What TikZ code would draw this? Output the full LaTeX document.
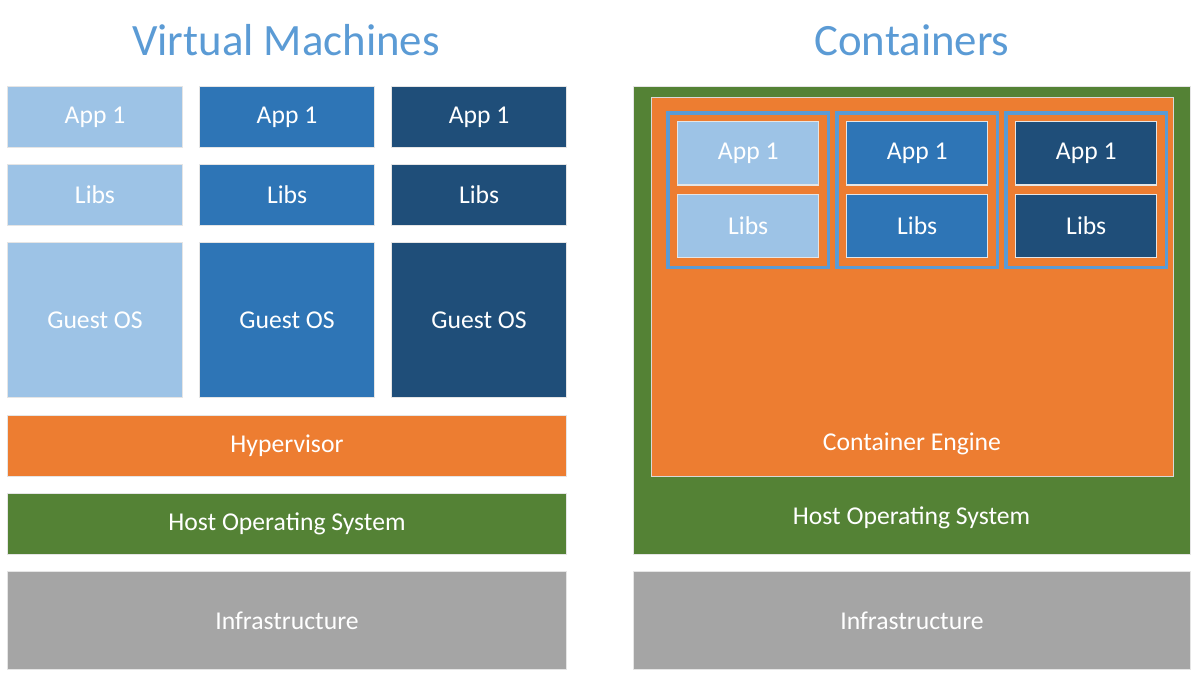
\documentclass[tikz,border=0pt]{standalone}
\usepackage{fontspec}
\setmainfont{Carlito}
\usetikzlibrary{positioning}
\definecolor{lite}{HTML}{9DC3E6}
\definecolor{mid}{HTML}{2E75B6}
\definecolor{deep}{HTML}{1F4E79}
\definecolor{engine}{HTML}{ED7D31}
\definecolor{hostgreen}{HTML}{548235}
\definecolor{infragray}{HTML}{A5A5A5}
\definecolor{headblue}{HTML}{5B9BD5}
\definecolor{ctrline}{HTML}{5B9BD5}
\begin{document}
\begin{tikzpicture}[x=0.02cm,y=-0.02cm,every node/.style={font=\fontsize{14.6}{17}\selectfont,text=white},
      layer/.style={draw=black!10,line width=.6pt,inner sep=0pt,minimum height=1.22cm,anchor=north west},
      vmbox/.style={layer,minimum width=3.5cm},
      cbox/.style={draw=black!10,line width=.6pt,inner sep=0pt,minimum width=2.82cm,minimum height=1.27cm},
      ctr/.style={draw=ctrline,line width=2pt,fill=engine,minimum width=3.22cm,minimum height=3.1cm,anchor=north west},
      head/.style={font=\fontsize{25.5}{29}\selectfont,text=headblue}]
      \useasboundingbox[fill=white] (0,0) rectangle (1200,681);
      \node[head] (vmtitle) at (286,40) {Virtual Machines};
      \node[head] (cttitle) at (912,40) {Containers};
      \node[vmbox,fill=lite] (app1) at (7,86) {App 1};
      \node[vmbox,fill=mid,right=0.32cm of app1] (app2) {App 1};
      \node[vmbox,fill=deep,right=0.32cm of app2] (app3) {App 1};
      \node[vmbox,fill=lite,below=0.32cm of app1] (libs1) {Libs};
      \node[vmbox,fill=mid,below=0.32cm of app2] (libs2) {Libs};
      \node[vmbox,fill=deep,below=0.32cm of app3] (libs3) {Libs};
      \node[vmbox,fill=lite,minimum height=3.1cm,below=0.32cm of libs1] (os1) {Guest OS};
      \node[vmbox,fill=mid,minimum height=3.1cm,below=0.32cm of libs2] (os2) {Guest OS};
      \node[vmbox,fill=deep,minimum height=3.1cm,below=0.32cm of libs3] (os3) {Guest OS};
      \node[layer,fill=engine,minimum width=11.18cm] (hyper) at (7,415) {Hypervisor};
      \node[layer,fill=hostgreen,minimum width=11.18cm] (host) at (7,493) {Host Operating System};
      \node[layer,fill=infragray,minimum width=11.18cm,minimum height=1.96cm] (infra) at (7,571) {Infrastructure};
      \node[layer,fill=hostgreen,minimum width=11.14cm,minimum height=9.36cm] (chost) at (633,86) {};
      \node (chostlbl) at (911.5,518) {Host Operating System};
      \node[layer,draw=white!70!gray,fill=engine,minimum width=10.44cm,minimum height=7.58cm] (eng) at (651,97) {};
      \node (englbl) at (912,444) {Container Engine};
      \node[ctr] (ctr1) at (666,111) {};
      \node[ctr] (ctr2) at (835,111) {};
      \node[ctr] (ctr3) at (1004,111) {};
      \node[cbox,fill=lite,below=0.2cm of ctr1.north] (capp1) {App 1};
      \node[cbox,fill=mid,below=0.2cm of ctr2.north] (capp2) {App 1};
      \node[cbox,fill=deep,below=0.2cm of ctr3.north] (capp3) {App 1};
      \node[cbox,fill=lite,below=0.16cm of capp1] (clibs1) {Libs};
      \node[cbox,fill=mid,below=0.16cm of capp2] (clibs2) {Libs};
      \node[cbox,fill=deep,below=0.16cm of capp3] (clibs3) {Libs};
      \node[layer,fill=infragray,minimum width=11.14cm,minimum height=1.96cm] (cinfra) at (633,571) {Infrastructure};
    \end{tikzpicture}
\end{document}
